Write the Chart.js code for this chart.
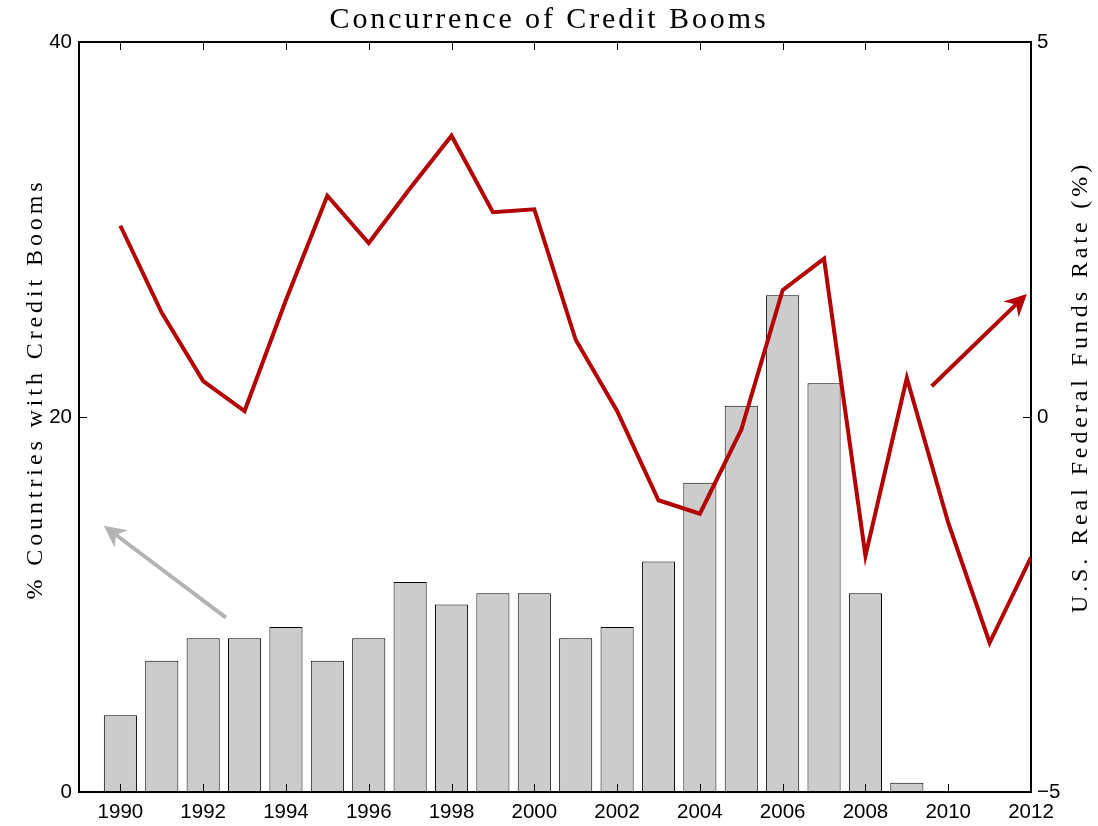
<!DOCTYPE html>
<html>
<head>
<meta charset="utf-8">
<title>Concurrence of Credit Booms</title>
<script src="https://cdn.jsdelivr.net/npm/chart.js@4.4.1/dist/chart.umd.min.js"></script>
<style>
  html, body { margin: 0; padding: 0; background: #fff; }
  #wrap { width: 1098px; height: 826px; }
</style>
</head>
<body>
<div id="wrap"><canvas id="boomChart" width="1098" height="826"></canvas></div>
<script>
// years on the x axis (bars stop at 2011, the rate line runs to 2012)
const years = [1990, 1991, 1992, 1993, 1994, 1995, 1996, 1997, 1998, 1999, 2000, 2001,
               2002, 2003, 2004, 2005, 2006, 2007, 2008, 2009, 2010, 2011, 2012];
// % of countries with credit booms (left axis)
const boomShare = [4.1, 7.0, 8.2, 8.2, 8.8, 7.0, 8.2, 11.2, 10.0, 10.6, 10.6, 8.2,
                   8.8, 12.3, 16.5, 20.6, 26.5, 21.8, 10.6, 0.5, 0, 0];
// U.S. real federal funds rate, % (right axis)
const realFedRate = [2.55, 1.39, 0.48, 0.08, 1.56, 2.95, 2.32, 3.05, 3.75, 2.73, 2.77, 1.03,
                     0.08, -1.11, -1.29, -0.17, 1.69, 2.11, -1.85, 0.52, -1.41, -3.01, -1.87];
const yearTicks = [1990, 1992, 1994, 1996, 1998, 2000, 2002, 2004, 2006, 2008, 2010, 2012];
const boomTicks = [0, 20, 40];
const rateTicks = [-5, 0, 5];

const titleText = 'Concurrence of Credit Booms';
const leftTitle = '% Countries with Credit Booms';
const rightTitle = 'U.S. Real Federal Funds Rate (%)';

// annotation arrows, in data units of the axis named
const arrows = [
  { axis: 'y',  from: [1992.55, 9.3],  to: [1989.6, 14.2], color: '#b3b3b3' },
  { axis: 'y2', from: [2009.6, 0.41],  to: [2011.9, 1.64], color: '#b30000' }
];

Chart.defaults.font.family = '"Liberation Sans", Arial, sans-serif';
Chart.defaults.color = '#000';

function drawArrow(ctx, x0, y0, x1, y1, color) {
  const ang = Math.atan2(y1 - y0, x1 - x0);
  const headLen = 22, headHalf = 11, notch = 7;
  ctx.strokeStyle = color;
  ctx.fillStyle = color;
  ctx.lineWidth = 4;
  ctx.lineCap = 'butt';
  ctx.beginPath();
  ctx.moveTo(x0, y0);
  ctx.lineTo(x1 - Math.cos(ang) * (headLen - notch), y1 - Math.sin(ang) * (headLen - notch));
  ctx.stroke();
  ctx.save();
  ctx.translate(x1, y1);
  ctx.rotate(ang);
  ctx.beginPath();
  ctx.moveTo(0, 0);
  ctx.lineTo(-headLen, -headHalf);
  ctx.lineTo(-headLen + notch, 0);
  ctx.lineTo(-headLen, headHalf);
  ctx.closePath();
  ctx.fill();
  ctx.restore();
}

function tickSetter(values) {
  return function(scale) { scale.ticks = values.map(v => ({ value: v })); };
}

const decor = {
  id: 'decor',
  beforeDraw(chart) {
    // spaced-out serif for the title, reset before the tick labels
    chart.ctx.letterSpacing = '2.9px';
  },
  beforeDatasetsDraw(chart) {
    chart.ctx.letterSpacing = '0px';
  },
  afterDraw(chart) {
    const { ctx, chartArea: a, scales } = chart;
    ctx.save();
    ctx.strokeStyle = '#000';
    // top of the frame
    ctx.lineWidth = 2;
    ctx.beginPath();
    ctx.moveTo(a.left - 1, a.top);
    ctx.lineTo(a.right + 1, a.top);
    ctx.stroke();

    // inward tick marks
    ctx.lineWidth = 1;
    const tl = 8;
    ctx.beginPath();
    yearTicks.forEach(v => {
      const px = Math.round(scales.x.getPixelForValue(v)) + 0.5;
      ctx.moveTo(px, a.bottom); ctx.lineTo(px, a.bottom - tl);
      ctx.moveTo(px, a.top); ctx.lineTo(px, a.top + tl);
    });
    boomTicks.forEach(v => {
      const py = Math.round(scales.y.getPixelForValue(v)) + 0.5;
      ctx.moveTo(a.left, py); ctx.lineTo(a.left + tl, py);
    });
    rateTicks.forEach(v => {
      const py = Math.round(scales.y2.getPixelForValue(v)) + 0.5;
      ctx.moveTo(a.right, py); ctx.lineTo(a.right - tl, py);
    });
    ctx.stroke();

    arrows.forEach(ar => {
      const ys = scales[ar.axis];
      drawArrow(ctx,
        scales.x.getPixelForValue(ar.from[0]), ys.getPixelForValue(ar.from[1]),
        scales.x.getPixelForValue(ar.to[0]), ys.getPixelForValue(ar.to[1]),
        ar.color);
    });

    // axis titles, both reading bottom to top
    ctx.fillStyle = '#000';
    ctx.font = '24px "Liberation Serif", serif';
    ctx.letterSpacing = '3.9px';
    ctx.textAlign = 'center';
    ctx.textBaseline = 'middle';
    ctx.save();
    ctx.translate(36, 389);
    ctx.rotate(-Math.PI / 2);
    ctx.fillText(leftTitle, 0, 0);
    ctx.restore();
    ctx.save();
    ctx.translate(1081, 387);
    ctx.rotate(-Math.PI / 2);
    ctx.fillText(rightTitle, 0, 0);
    ctx.restore();
    ctx.letterSpacing = '0px';
    ctx.restore();
  }
};

const tickFont = { family: '"Liberation Sans", Arial, sans-serif', size: 20.5 };

new Chart(document.getElementById('boomChart'), {
  type: 'bar',
  data: {
    datasets: [
      {
        type: 'line',
        label: rightTitle,
        data: years.map((yr, i) => ({ x: yr, y: realFedRate[i] })),
        yAxisID: 'y2',
        borderColor: '#b30000',
        borderWidth: 4,
        borderJoinStyle: 'miter',
        pointRadius: 0,
        tension: 0,
        order: 0
      },
      {
        type: 'bar',
        label: leftTitle,
        data: boomShare.map((v, i) => ({ x: years[i], y: v })),
        yAxisID: 'y',
        backgroundColor: '#cccccc',
        borderColor: '#000',
        borderWidth: 1,
        borderSkipped: false,
        barPercentage: 0.8,
        categoryPercentage: 1,
        order: 1
      }
    ]
  },
  options: {
    responsive: false,
    animation: false,
    layout: { padding: 0 },
    plugins: {
      legend: { display: false },
      tooltip: { enabled: false },
      title: {
        display: true,
        text: titleText,
        color: '#000',
        font: { family: '"Liberation Serif", serif', size: 30, weight: 'normal' },
        padding: { top: 2, bottom: 4 }
      }
    },
    scales: {
      x: {
        type: 'linear',
        min: 1989,
        max: 2012,
        offset: false,
        grid: { display: false, drawTicks: false, offset: false },
        border: { display: true, color: '#000', width: 2 },
        afterBuildTicks: tickSetter(yearTicks),
        afterFit: s => { s.height = 34; },
        ticks: {
          autoSkip: false, maxRotation: 0, padding: 8, z: 1,
          font: tickFont, color: '#000',
          callback: v => String(v)
        }
      },
      y: {
        position: 'left',
        min: 0,
        max: 40,
        grid: { display: false, drawTicks: false },
        border: { display: true, color: '#000', width: 2 },
        afterBuildTicks: tickSetter(boomTicks),
        afterFit: s => { s.width = 79; },
        ticks: { padding: 7, z: 1, font: tickFont, color: '#000' }
      },
      y2: {
        position: 'right',
        min: -5,
        max: 5,
        grid: { display: false, drawTicks: false },
        border: { display: true, color: '#000', width: 2 },
        afterBuildTicks: tickSetter(rateTicks),
        afterFit: s => { s.width = 67; },
        ticks: {
          padding: 6, z: 1, font: tickFont, color: '#000',
          callback: v => v < 0 ? '\u2212' + Math.abs(v) : String(v)
        }
      }
    }
  },
  plugins: [decor]
});
</script>
</body>
</html>
